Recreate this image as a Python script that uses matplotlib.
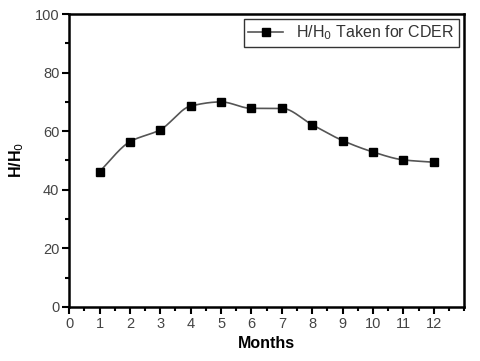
import numpy as np
import matplotlib
matplotlib.use("Agg")
import matplotlib.pyplot as plt
from matplotlib.ticker import MultipleLocator

months = [1, 2, 3, 4, 5, 6, 7, 8, 9, 10, 11, 12]
h_ratio = [46.2, 56.4, 60.5, 68.6, 70.0, 67.8, 67.8, 62.2, 56.8, 52.9, 50.2, 49.4]
series_label = "H/H$_0$ Taken for CDER"


def pchip(x, y, n=400):
    x = np.asarray(x, float); y = np.asarray(y, float)
    h = np.diff(x); delta = np.diff(y) / h
    k = len(x); m = np.zeros(k)
    for i in range(1, k - 1):
        if delta[i - 1] * delta[i] > 0:
            w1 = 2 * h[i] + h[i - 1]; w2 = h[i] + 2 * h[i - 1]
            m[i] = (w1 + w2) / (w1 / delta[i - 1] + w2 / delta[i])
    m[0] = delta[0]; m[-1] = delta[-1]
    xs = np.linspace(x[0], x[-1], n)
    idx = np.clip(np.searchsorted(x, xs) - 1, 0, k - 2)
    t = (xs - x[idx]) / h[idx]
    h00 = 2 * t**3 - 3 * t**2 + 1; h10 = t**3 - 2 * t**2 + t
    h01 = -2 * t**3 + 3 * t**2; h11 = t**3 - t**2
    ys = h00 * y[idx] + h10 * h[idx] * m[idx] + h01 * y[idx + 1] + h11 * h[idx] * m[idx + 1]
    return xs, ys


plt.rcParams['font.family'] = ['Liberation Sans', 'DejaVu Sans']
fig = plt.figure(figsize=(4.8, 3.61), dpi=100)
ax = fig.add_axes([0.144, 0.150, 0.823, 0.811])

xs, ys = pchip(months, h_ratio)
ax.plot(xs, ys, color='#555555', lw=1.2, zorder=2)
ax.plot(months, h_ratio, ls='none', marker='s', ms=5.5, color='black', zorder=3)
ax.plot([], [], color='#555555', lw=1.2, marker='s', ms=5.5, mfc='black', mec='black', label=series_label)

ax.set_xlim(0, 13)
ax.set_ylim(0, 100)
ax.set_xticks(range(0, 13))
ax.xaxis.set_minor_locator(MultipleLocator(0.5))
ax.yaxis.set_major_locator(MultipleLocator(20))
ax.yaxis.set_minor_locator(MultipleLocator(10))
ax.tick_params(which='major', direction='out', length=5, width=1.5, labelsize=10.5, colors='black', labelcolor='#444444', pad=2)
ax.tick_params(which='minor', direction='out', length=3, width=1.5)
for s in ax.spines.values():
    s.set_linewidth(1.8)

ax.set_xlabel("Months", fontsize=11.5, fontweight='bold', labelpad=4)
ax.set_ylabel("H/H$_0$", fontsize=11.5, fontweight='bold', labelpad=6)

leg = ax.legend(loc='upper right', fontsize=11.5, fancybox=False, framealpha=1,
                edgecolor='#333333', handlelength=2.2, borderpad=0.3, borderaxespad=0.3)
leg.get_frame().set_linewidth(1.0)
for t in leg.get_texts():
    t.set_color('#333333')

fig.savefig("out.png", dpi=100)
